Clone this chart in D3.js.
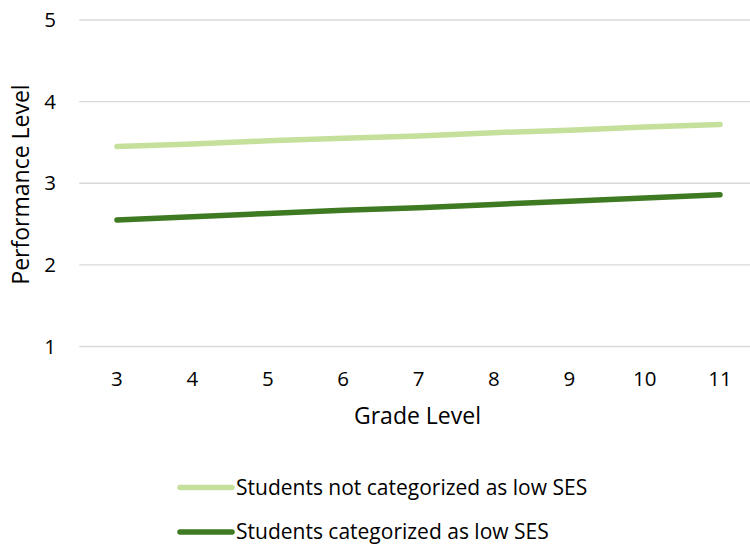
<!DOCTYPE html>
<html>
<head>
<meta charset="utf-8">
<script src="https://cdn.jsdelivr.net/npm/d3@7"></script>
<style>
  body { margin: 0; background: #fff; }
  svg { display: block; font-family: "Open Sans", Lato, sans-serif; }
</style>
</head>
<body>
<svg id="chart" width="750" height="544"></svg>
<script>
// Grade levels along the x axis
const grades = ["3", "4", "5", "6", "7", "8", "9", "10", "11"];
// Mean performance level per grade
const notLowSES = [3.45, 3.48, 3.52, 3.55, 3.58, 3.62, 3.65, 3.69, 3.72];
const lowSES    = [2.55, 2.59, 2.63, 2.67, 2.70, 2.74, 2.78, 2.82, 2.86];
const yTicks = [1, 2, 3, 4, 5];
const seriesNames = ["Students not categorized as low SES", "Students categorized as low SES"];
const seriesColors = ["#c5e09b", "#3d7a22"];

const svg = d3.select("#chart");
const plotLeft = 79.3, plotRight = 757.7, plotTop = 20, plotBottom = 346.5;

const x = d3.scalePoint().domain(grades).range([plotLeft, plotRight]).padding(0.5);
const y = d3.scaleLinear().domain([1, 5]).range([plotBottom, plotTop]);

// Horizontal gridlines
svg.append("g").selectAll("line").data(yTicks).join("line")
  .attr("x1", plotLeft).attr("x2", plotRight)
  .attr("y1", d => y(d)).attr("y2", d => y(d))
  .attr("stroke", "#d9d9d9").attr("stroke-width", 1.3);

// Y axis labels
svg.append("g").selectAll("text").data(yTicks).join("text")
  .attr("x", 56).attr("y", d => y(d)).attr("dy", "0.35em")
  .attr("text-anchor", "end").attr("font-size", 20.5).attr("fill", "#000")
  .text(d => d);

// X axis labels
svg.append("g").selectAll("text").data(grades).join("text")
  .attr("x", d => x(d)).attr("y", 379).attr("dy", "0.35em")
  .attr("text-anchor", "middle").attr("font-size", 20.5).attr("fill", "#000")
  .text(d => d);

// Axis titles
svg.append("text").attr("x", 417.5).attr("y", 416).attr("dy", "0.35em")
  .attr("text-anchor", "middle").attr("font-size", 23).text("Grade Level");
svg.append("text")
  .attr("transform", "translate(20.5,184.5) rotate(-90)").attr("dy", "0.35em")
  .attr("text-anchor", "middle").attr("font-size", 23).text("Performance Level");

// Series lines
const line = d3.line().x((d, i) => x(grades[i])).y(d => y(d));
[notLowSES, lowSES].forEach((vals, k) => {
  svg.append("path").datum(vals)
    .attr("d", line).attr("fill", "none")
    .attr("stroke", seriesColors[k]).attr("stroke-width", 5.5)
    .attr("stroke-linecap", "round").attr("stroke-linejoin", "round");
});

// Legend
const legend = svg.append("g");
seriesNames.forEach((name, k) => {
  const ly = 487.5 + k * 44.5;
  legend.append("line").attr("x1", 180).attr("x2", 232).attr("y1", ly).attr("y2", ly)
    .attr("stroke", seriesColors[k]).attr("stroke-width", 5.5).attr("stroke-linecap", "round");
  legend.append("text").attr("x", 236).attr("y", ly).attr("dy", "0.35em")
    .attr("font-size", 21).attr("fill", "#000").text(name);
});
</script>
</body>
</html>
